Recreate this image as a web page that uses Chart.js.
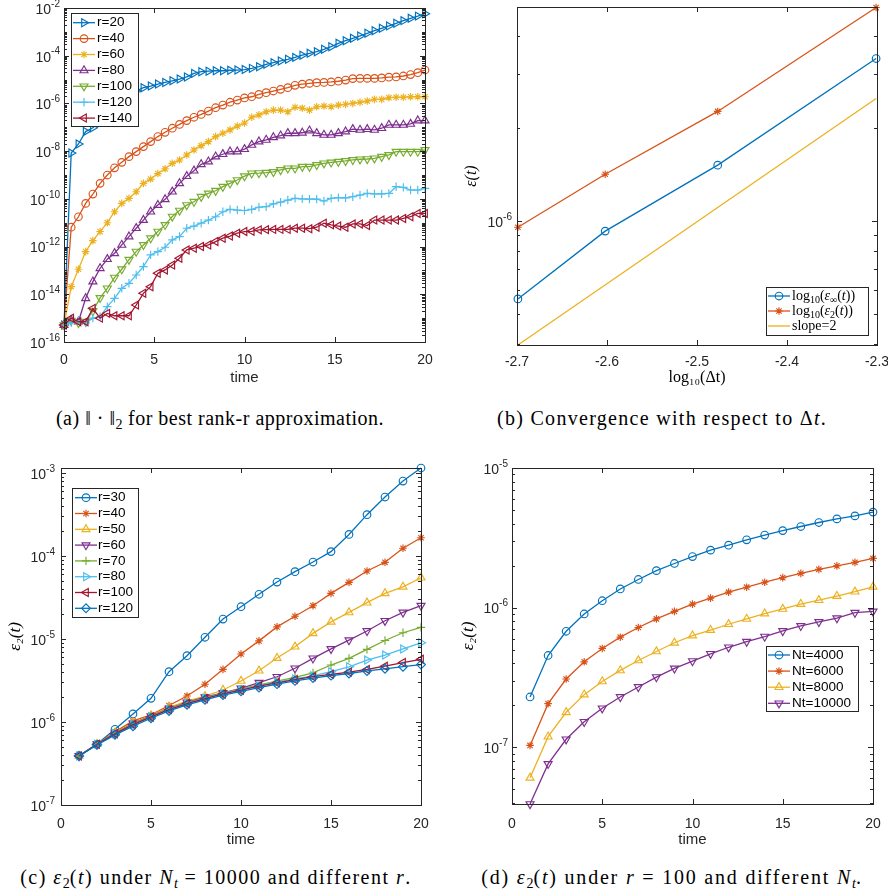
<!DOCTYPE html>
<html>
<head>
<meta charset="utf-8">
<title>rank-r approximation errors</title>
<script src="https://cdn.jsdelivr.net/npm/chart.js@4.4.1/dist/chart.umd.min.js"></script>
<style>
  html, body { margin: 0; padding: 0; background: #fff; }
  body { position: relative; width: 888px; height: 894px; overflow: hidden; }
  canvas { position: absolute; }
  .cap { position: absolute; white-space: nowrap; font-family: 'Liberation Serif', 'Times New Roman', serif;
         font-size: 20px; letter-spacing: 1.3px; line-height: 22px; color: #000; transform: translateX(-50%); }
  .cap sub { font-size: 70%; vertical-align: -0.3em; line-height: 0; letter-spacing: 0; }
</style>
</head>
<body>
<canvas id="chartA" width="444" height="395" style="left:0;top:0"></canvas>
<canvas id="chartB" width="470" height="395" style="left:444px;top:0"></canvas>
<canvas id="chartC" width="444" height="420" style="left:0;top:440px"></canvas>
<canvas id="chartD" width="444" height="420" style="left:444px;top:440px"></canvas>
<div class="cap" style="left:220px;top:407px;letter-spacing:0.5px">(a) ‖ · ‖<sub>2</sub> for best rank-r approximation.</div>
<div class="cap" style="left:662px;top:407px">(b) Convergence with respect to Δ<i>t</i>.</div>
<div class="cap" style="left:216px;top:866px;letter-spacing:1.5px">(c) <i>ε</i><sub>2</sub>(<i>t</i>) under <i>N<sub>t</sub></i> = 10000 and different <i>r</i>.</div>
<div class="cap" style="left:672px;top:866px;letter-spacing:1.8px">(d) <i>ε</i><sub>2</sub>(<i>t</i>) under <i>r</i> = 100 and different <i>N<sub>t</sub></i>.</div>
<script>
// ─── Panel (a): log10 of ||·||2 error ────────────────────────────
const aTime = [0, 0.4, 0.8, 1.2, 1.6, 2, 2.4, 2.8, 3.2, 3.6, 4, 4.4, 4.8, 5.2, 5.6, 6, 6.4, 6.8, 7.2, 7.6,
  8, 8.4, 8.8, 9.2, 9.6, 10, 10.4, 10.8, 11.2, 11.6, 12, 12.4, 12.8, 13.2, 13.6, 14, 14.4, 14.8, 15.2, 15.6,
  16, 16.4, 16.8, 17.2, 17.6, 18, 18.4, 18.8, 19.2, 19.6, 20];
const aLogR20 = [-15.29, -8.08, -7.70, -7.18, -7.02, -6.75, -6.50, -6.25, -6.00, -5.75, -5.48, -5.34, -5.27, -5.19, -5.12, -5.05, -4.98,
  -4.89, -4.74, -4.67, -4.65, -4.63, -4.63, -4.61, -4.60, -4.58, -4.53, -4.46, -4.36, -4.29, -4.22, -4.15, -4.07, -3.98, -3.90,
  -3.83, -3.73, -3.62, -3.48, -3.37, -3.27, -3.17, -3.06, -2.95, -2.85, -2.75, -2.64, -2.53, -2.43, -2.34, -2.24];
const aLogR40 = [-15.29, -11.19, -10.75, -10.19, -9.80, -9.35, -9.00, -8.70, -8.47, -8.23, -8.02, -7.81, -7.60, -7.39, -7.21, -7.04,
  -6.88, -6.72, -6.58, -6.46, -6.32, -6.18, -6.07, -5.95, -5.86, -5.77, -5.72, -5.62, -5.55, -5.48, -5.41, -5.34, -5.24, -5.19,
  -5.16, -5.13, -5.12, -5.10, -5.07, -5.02, -4.96, -4.95, -4.95, -4.95, -4.93, -4.90, -4.89, -4.85, -4.79, -4.71, -4.60];
const aLogR60 = [-15.29, -13.68, -12.95, -12.21, -11.75, -11.37, -11.00, -10.54, -10.19, -9.98, -9.70, -9.35, -9.17, -8.94, -8.74,
  -8.51, -8.37, -8.16, -7.95, -7.77, -7.60, -7.39, -7.25, -7.11, -6.95, -6.82, -6.58, -6.48, -6.35, -6.28, -6.28, -6.35, -6.16,
  -6.20, -6.28, -6.14, -6.11, -6.14, -6.07, -6.04, -6.00, -5.95, -5.90, -5.83, -5.83, -5.76, -5.74, -5.74, -5.72, -5.72, -5.72];
const aLogR80 = [-15.29, -15.08, -15.15, -14.17, -13.47, -12.91, -12.53, -12.28, -11.93, -11.58, -11.23, -10.89, -10.54, -10.26,
  -10.02, -9.70, -9.35, -9.05, -8.82, -8.55, -8.44, -8.23, -8.13, -8.02, -8.02, -7.92, -7.74, -7.60, -7.53, -7.42, -7.35, -7.25,
  -7.25, -7.23, -7.14, -7.25, -7.32, -7.32, -7.25, -7.18, -7.08, -7.11, -7.08, -7.11, -7.04, -6.90, -6.90, -6.90, -6.86, -6.72, -6.72];
const aLogR100 = [-15.29, -15.10, -15.20, -15.15, -14.70, -14.15, -13.75, -13.30, -12.95, -12.55, -12.21, -11.93, -11.65, -11.37,
  -11.09, -10.74, -10.49, -10.26, -10.12, -9.91, -9.77, -9.66, -9.49, -9.35, -9.21, -9.05, -8.93, -8.92, -8.90, -8.87, -8.79, -8.72,
  -8.72, -8.65, -8.65, -8.58, -8.51, -8.47, -8.44, -8.41, -8.37, -8.34, -8.33, -8.30, -8.23, -8.16, -8.02, -8.02, -8.02, -8.02, -7.95];
const aLogR120 = [-15.29, -15.20, -15.10, -15.20, -15.00, -14.94, -14.52, -14.17, -13.75, -13.54, -13.19, -12.84, -12.35, -12.21,
  -12.03, -11.72, -11.58, -11.23, -11.14, -11.02, -10.89, -10.75, -10.54, -10.44, -10.47, -10.49, -10.44, -10.35, -10.33, -10.21,
  -10.14, -10.05, -9.98, -10.00, -10.01, -10.01, -10.09, -9.98, -9.95, -9.96, -9.91, -9.84, -9.77, -9.79, -9.79, -9.77, -9.49,
  -9.52, -9.63, -9.63, -9.56];
const aLogR140 = [-15.29, -15.00, -15.15, -15.15, -14.59, -15.00, -14.80, -14.90, -14.90, -14.90, -14.45, -13.96, -13.68, -13.12,
  -12.98, -12.77, -12.49, -12.14, -12.07, -12.00, -11.93, -11.79, -11.65, -11.56, -11.44, -11.37, -11.36, -11.30, -11.29, -11.28,
  -11.28, -11.28, -11.23, -11.23, -11.25, -11.19, -11.02, -11.09, -11.14, -11.19, -11.05, -11.05, -11.12, -10.89, -10.89, -10.89,
  -10.89, -10.82, -10.75, -10.61, -10.61];
const aLabels = ['r=20', 'r=40', 'r=60', 'r=80', 'r=100', 'r=120', 'r=140'];
const aXTicks = [0, 5, 10, 15, 20];
const aYTicks = [1e-16, 1e-14, 1e-12, 1e-10, 1e-8, 1e-6, 1e-4, 1e-2];

// ─── Panel (b): convergence in Δt ────────────────────────────────
const bLogDt = [-2.699, -2.602, -2.477, -2.301];
const bErrInf = [5.6e-7, 9.29e-7, 1.52e-6, 3.37e-6];
const bErr2 = [9.56e-7, 1.42e-6, 2.27e-6, 4.93e-6];
const bSlopeX = [-2.699, -2.301];
const bSlope = [3.97e-7, 2.5e-6];
const bXTicks = [-2.7, -2.6, -2.5, -2.4, -2.3];
const bYTicks = [1e-6];

// ─── Panel (c): Nt = 10000, different r ──────────────────────────
const cTime = [1, 2, 3, 4, 5, 6, 7, 8, 9, 10, 11, 12, 13, 14, 15, 16, 17, 18, 19, 20];
const cR30 = [3.93e-7, 5.43e-7, 8.17e-7, 1.25e-6, 1.93e-6, 4.04e-6, 6.3e-6, 1.05e-5, 1.74e-5, 2.45e-5, 3.46e-5, 4.86e-5, 6.48e-5, 8.47e-5, 1.13e-4, 1.82e-4, 3.15e-4, 5.14e-4, 8.0e-4, 1.15e-3];
const cR40 = [3.9e-7, 5.4e-7, 7.6e-7, 1.03e-6, 1.22e-6, 1.58e-6, 2.06e-6, 2.85e-6, 4.31e-6, 6.6e-6, 9.5e-6, 1.40e-5, 1.88e-5, 2.52e-5, 3.55e-5, 4.82e-5, 6.6e-5, 8.4e-5, 1.24e-4, 1.66e-4];
const cR50 = [3.9e-7, 5.4e-7, 7.4e-7, 9.8e-7, 1.2e-6, 1.5e-6, 1.78e-6, 2.05e-6, 2.43e-6, 3.12e-6, 4.15e-6, 5.9e-6, 8.07e-6, 1.17e-5, 1.61e-5, 2.09e-5, 2.74e-5, 3.55e-5, 4.26e-5, 5.48e-5];
const cR60 = [3.9e-7, 5.4e-7, 7.3e-7, 9.6e-7, 1.18e-6, 1.45e-6, 1.73e-6, 2.0e-6, 2.25e-6, 2.55e-6, 2.98e-6, 3.51e-6, 4.44e-6, 5.85e-6, 7.6e-6, 9.7e-6, 1.25e-5, 1.66e-5, 2.09e-5, 2.52e-5];
const cR70 = [3.9e-7, 5.4e-7, 7.3e-7, 9.5e-7, 1.17e-6, 1.43e-6, 1.70e-6, 1.95e-6, 2.23e-6, 2.5e-6, 2.8e-6, 3.1e-6, 3.45e-6, 3.9e-6, 4.86e-6, 5.85e-6, 7.5e-6, 9.6e-6, 1.19e-5, 1.38e-5];
const cR80 = [3.9e-7, 5.4e-7, 7.2e-7, 9.4e-7, 1.16e-6, 1.42e-6, 1.68e-6, 1.93e-6, 2.2e-6, 2.45e-6, 2.74e-6, 3.02e-6, 3.3e-6, 3.6e-6, 4.04e-6, 4.63e-6, 5.58e-6, 6.4e-6, 7.6e-6, 9.0e-6];
const cR100 = [3.9e-7, 5.4e-7, 7.2e-7, 9.3e-7, 1.15e-6, 1.41e-6, 1.67e-6, 1.91e-6, 2.18e-6, 2.42e-6, 2.70e-6, 2.97e-6, 3.25e-6, 3.52e-6, 3.76e-6, 4.0e-6, 4.3e-6, 4.7e-6, 5.2e-6, 5.7e-6];
const cR120 = [3.9e-7, 5.3e-7, 7.0e-7, 8.9e-7, 1.11e-6, 1.36e-6, 1.61e-6, 1.85e-6, 2.11e-6, 2.34e-6, 2.60e-6, 2.86e-6, 3.13e-6, 3.38e-6, 3.62e-6, 3.84e-6, 4.12e-6, 4.38e-6, 4.64e-6, 4.92e-6];
const cLabels = ['r=30', 'r=40', 'r=50', 'r=60', 'r=70', 'r=80', 'r=100', 'r=120'];
const cXTicks = [0, 5, 10, 15, 20];
const cYTicks = [1e-7, 1e-6, 1e-5, 1e-4, 1e-3];

// ─── Panel (d): r = 100, different Nt ────────────────────────────
const dTime = [1, 2, 3, 4, 5, 6, 7, 8, 9, 10, 11, 12, 13, 14, 15, 16, 17, 18, 19, 20];
const dNt4000 = [2.29e-7, 4.54e-7, 6.77e-7, 9.0e-7, 1.12e-6, 1.36e-6, 1.59e-6, 1.84e-6, 2.07e-6, 2.32e-6, 2.58e-6, 2.80e-6, 3.06e-6, 3.31e-6, 3.56e-6, 3.81e-6, 4.07e-6, 4.32e-6, 4.54e-6, 4.83e-6];
const dNt6000 = [1.03e-7, 2.05e-7, 3.08e-7, 4.09e-7, 5.1e-7, 6.14e-7, 7.2e-7, 8.3e-7, 9.4e-7, 1.06e-6, 1.17e-6, 1.29e-6, 1.40e-6, 1.52e-6, 1.64e-6, 1.76e-6, 1.88e-6, 1.99e-6, 2.11e-6, 2.25e-6];
const dNt8000 = [6.04e-8, 1.19e-7, 1.78e-7, 2.38e-7, 2.96e-7, 3.55e-7, 4.18e-7, 4.85e-7, 5.6e-7, 6.3e-7, 6.9e-7, 7.6e-7, 8.3e-7, 9.06e-7, 9.78e-7, 1.06e-6, 1.13e-6, 1.21e-6, 1.30e-6, 1.41e-6];
const dNt10000 = [3.92e-8, 7.6e-8, 1.14e-7, 1.52e-7, 1.90e-7, 2.29e-7, 2.70e-7, 3.18e-7, 3.67e-7, 4.14e-7, 4.67e-7, 5.2e-7, 5.7e-7, 6.2e-7, 6.8e-7, 7.4e-7, 7.9e-7, 8.4e-7, 9.2e-7, 9.4e-7];
const dLabels = ['Nt=4000', 'Nt=6000', 'Nt=8000', 'Nt=10000'];
const dXTicks = [0, 5, 10, 15, 20];
const dYTicks = [1e-7, 1e-6, 1e-5];

// ─── Style tokens (MATLAB default line order) ────────────────────
const C = {
  blue: '#0072BD', orange: '#D95319', yellow: '#EDB120', purple: '#7E2F8E',
  green: '#77AC30', cyan: '#4DBEEE', wine: '#A2142F',
};
const AXIS = '#262626';
const SANS = "'Liberation Sans', Arial, sans-serif";
const SERIF = "'Liberation Serif', 'Times New Roman', serif";

const MARK = {
  o: { style: 'circle', r: 3.8, rot: 0 },
  '*': { style: 'star', r: 3.8, rot: 0 },
  '^': { style: 'triangle', r: 4.6, rot: 0 },
  v: { style: 'triangle', r: 4.6, rot: 180 },
  '>': { style: 'triangle', r: 4.6, rot: 90 },
  '<': { style: 'triangle', r: 4.6, rot: 270 },
  '+': { style: 'cross', r: 4.2, rot: 0 },
  d: { style: 'rectRot', r: 4.4, rot: 0 },
  none: { style: 'circle', r: 0, rot: 0 },
};

function series(label, color, mark, xs, ys, parts) {
  const m = MARK[mark];
  return {
    label,
    legendParts: parts,
    data: xs.map((x, i) => ({ x, y: ys[i] })),
    borderColor: color,
    backgroundColor: color,
    borderWidth: 1.3,
    tension: 0,
    clip: false,
    pointStyle: m.style,
    pointRadius: m.r,
    pointHoverRadius: m.r,
    pointRotation: m.rot,
    pointBorderColor: color,
    pointBackgroundColor: 'rgba(0,0,0,0)',
    pointBorderWidth: 1.15,
  };
}

// ─── Plugins: MATLAB-like box with inward ticks, 10^n labels, inset legend ───
const matlabBox = {
  id: 'matlabBox',
  afterDatasetsDraw(chart) {
    const { ctx, chartArea: a, scales: { x, y } } = chart;
    const majors = y.ticks.map((t) => t.value);
    ctx.save();
    ctx.strokeStyle = AXIS;
    ctx.lineWidth = 1;
    ctx.beginPath();
    x.ticks.forEach((t) => {
      const px = Math.round(x.getPixelForValue(t.value)) + 0.5;
      ctx.moveTo(px, a.bottom); ctx.lineTo(px, a.bottom - 5);
      ctx.moveTo(px, a.top); ctx.lineTo(px, a.top + 5);
    });
    const lo = Math.floor(Math.log10(y.min));
    const hi = Math.ceil(Math.log10(y.max));
    for (let e = lo; e <= hi; e++) {
      for (let m = 1; m < 10; m++) {
        const v = m * Math.pow(10, e);
        if (v < y.min * 0.999 || v > y.max * 1.001) continue;
        const len = majors.some((t) => Math.abs(t / v - 1) < 1e-6) ? 5 : 3;
        const py = Math.round(y.getPixelForValue(v)) + 0.5;
        ctx.moveTo(a.left, py); ctx.lineTo(a.left + len, py);
        ctx.moveTo(a.right, py); ctx.lineTo(a.right - len, py);
      }
    }
    ctx.stroke();
    ctx.strokeRect(Math.round(a.left) + 0.5, Math.round(a.top) + 0.5,
      Math.round(a.right - a.left), Math.round(a.bottom - a.top));
    ctx.restore();
  },
};

const supLabels = {
  id: 'supLabels',
  afterDraw(chart, args, o) {
    const { ctx, chartArea: a, scales: { y } } = chart;
    ctx.save();
    ctx.fillStyle = AXIS;
    ctx.textAlign = 'right';
    ctx.textBaseline = 'middle';
    y.ticks.forEach((t) => {
      const py = y.getPixelForValue(t.value);
      const ex = String(Math.round(Math.log10(t.value)));
      const xr = a.left - o.pad;
      ctx.font = '10px ' + SANS;
      const w = ctx.measureText(ex).width;
      ctx.fillText(ex, xr, py - 4);
      ctx.font = '14px ' + SANS;
      ctx.fillText('10', xr - w, py + 2);
    });
    ctx.restore();
  },
};

function drawRich(ctx, parts, x, y, size, family) {
  parts.forEach(([txt, mode]) => {
    const sub = mode.includes('s');
    const fs = sub ? Math.round(size * 0.7) : size;
    ctx.font = (mode.includes('i') ? 'italic ' : '') + fs + 'px ' + family;
    ctx.fillText(txt, x, sub ? y + size * 0.28 : y);
    x += ctx.measureText(txt).width;
  });
}

const boxLegend = {
  id: 'boxLegend',
  afterDraw(chart, args, o) {
    if (!o.box) return;
    const ctx = chart.ctx;
    const [bx, by, bw, bh] = o.box;
    ctx.save();
    ctx.fillStyle = '#fff';
    ctx.fillRect(bx, by, bw, bh);
    ctx.strokeStyle = AXIS;
    ctx.lineWidth = 1;
    ctx.strokeRect(bx + 0.5, by + 0.5, bw, bh);
    ctx.textAlign = 'left';
    ctx.textBaseline = 'middle';
    chart.data.datasets.forEach((ds, i) => {
      const cy = o.y0 + i * o.dy;
      ctx.strokeStyle = ds.borderColor;
      ctx.lineWidth = ds.borderWidth;
      ctx.beginPath(); ctx.moveTo(o.x0, cy); ctx.lineTo(o.x1, cy); ctx.stroke();
      if (ds.pointRadius > 0) {
        ctx.lineWidth = ds.pointBorderWidth;
        ctx.fillStyle = 'rgba(0,0,0,0)';
        Chart.helpers.drawPoint(ctx, {
          pointStyle: ds.pointStyle, rotation: ds.pointRotation,
          radius: ds.pointRadius, borderWidth: ds.pointBorderWidth,
        }, (o.x0 + o.x1) / 2, cy);
      }
      ctx.fillStyle = '#000';
      drawRich(ctx, ds.legendParts || [[ds.label, '']], o.tx, cy, o.size, o.family);
    });
    ctx.restore();
  },
};

// ─── Chart factory: pins the plot box to fixed pixels ────────────
function makeChart(id, g, datasets, ax) {
  const n = datasets.length;
  datasets.forEach((d, i) => { d.order = n - i; }); // later series on top, as in MATLAB
  return new Chart(document.getElementById(id), {
    type: 'line',
    data: { datasets },
    plugins: [matlabBox, supLabels, boxLegend],
    options: {
      responsive: false,
      animation: false,
      events: [],
      layout: { padding: { left: 0, top: g.t, right: g.w - g.r, bottom: 0 } },
      plugins: {
        legend: { display: false },
        tooltip: { enabled: false },
        supLabels: { pad: ax.labelPad },
        boxLegend: ax.legend,
      },
      scales: {
        x: {
          type: 'linear',
          min: ax.xMin,
          max: ax.xMax,
          afterBuildTicks: (s) => { s.ticks = ax.xTicks.map((v) => ({ value: v })); },
          afterFit: (s) => { s.height = g.h - g.b; },
          grid: { display: false },
          border: { display: false },
          ticks: {
            autoSkip: false, maxRotation: 0, padding: ax.xTickPad, color: AXIS,
            font: { family: SANS, size: 14 }, callback: (v) => String(v),
          },
          title: {
            display: true, text: ax.xTitle, color: ax.xTitleColor || AXIS, font: ax.xTitleFont,
            padding: { top: 0, bottom: ax.xTitlePad },
          },
        },
        y: {
          type: 'logarithmic',
          min: ax.yMin,
          max: ax.yMax,
          afterBuildTicks: (s) => { s.ticks = ax.yTicks.map((v) => ({ value: v })); },
          afterFit: (s) => { s.width = g.l; },
          grid: { display: false },
          border: { display: false },
          ticks: { display: false },
          title: {
            display: !!ax.yTitle, text: ax.yTitle || '', color: '#000', font: ax.yTitleFont,
            padding: { top: ax.yTitlePad || 0, bottom: 0 },
          },
        },
      },
    },
  });
}

const pow10 = (arr) => arr.map((e) => Math.pow(10, e)); // panel (a) values were read as log10

// (a)
makeChart('chartA', { w: 444, h: 395, l: 64, t: 8, r: 425, b: 342 }, [
  series(aLabels[0], C.blue, '>', aTime, pow10(aLogR20)),
  series(aLabels[1], C.orange, 'o', aTime, pow10(aLogR40)),
  series(aLabels[2], C.yellow, '*', aTime, pow10(aLogR60)),
  series(aLabels[3], C.purple, '^', aTime, pow10(aLogR80)),
  series(aLabels[4], C.green, 'v', aTime, pow10(aLogR100)),
  series(aLabels[5], C.cyan, '+', aTime, pow10(aLogR120)),
  series(aLabels[6], C.wine, '<', aTime, pow10(aLogR140)),
], {
  xMin: 0, xMax: 20, xTicks: aXTicks, yMin: 1e-16, yMax: 1e-2, yTicks: aYTicks,
  xTickPad: 2, labelPad: 4,
  xTitle: 'time', xTitleFont: { family: SANS, size: 15 }, xTitlePad: 8,
  legend: { box: [71, 13, 67, 113], x0: 73, x1: 95, tx: 97, y0: 22.7, dy: 15.9, size: 13.5, family: SANS },
});

// (b)
makeChart('chartB', { w: 470, h: 395, l: 73, t: 7, r: 433, b: 345 }, [
  series('log10(eps_inf(t))', C.blue, 'o', bLogDt, bErrInf,
    [['log', ''], ['10', 's'], ['(', ''], ['ε', 'i'], ['∞', 's'], ['(', ''], ['t', 'i'], ['))', '']]),
  series('log10(eps_2(t))', C.orange, '*', bLogDt, bErr2,
    [['log', ''], ['10', 's'], ['(', ''], ['ε', 'i'], ['2', 's'], ['(', ''], ['t', 'i'], ['))', '']]),
  series('slope=2', C.yellow, 'none', bSlopeX, bSlope),
], {
  xMin: -2.7, xMax: -2.3, xTicks: bXTicks, yMin: 3.97e-7, yMax: 4.95e-6, yTicks: bYTicks,
  xTickPad: 1, labelPad: 5,
  xTitle: 'log₁₀(Δt)', xTitleColor: '#000', xTitleFont: { family: SERIF, size: 16 }, xTitlePad: 8,
  yTitle: 'ε(t)', yTitleFont: { family: SERIF, size: 16, style: 'italic' }, yTitlePad: 18,
  legend: { box: [322, 287, 102, 48], x0: 324, x1: 346, tx: 348, y0: 296, dy: 15, size: 14, family: SERIF },
});

// (c)
makeChart('chartC', { w: 444, h: 420, l: 61, t: 28, r: 421, b: 365 }, [
  series(cLabels[0], C.blue, 'o', cTime, cR30),
  series(cLabels[1], C.orange, '*', cTime, cR40),
  series(cLabels[2], C.yellow, '^', cTime, cR50),
  series(cLabels[3], C.purple, 'v', cTime, cR60),
  series(cLabels[4], C.green, '+', cTime, cR70),
  series(cLabels[5], C.cyan, '>', cTime, cR80),
  series(cLabels[6], C.wine, '<', cTime, cR100),
  series(cLabels[7], C.blue, 'd', cTime, cR120),
], {
  xMin: 0, xMax: 20, xTicks: cXTicks, yMin: 1e-7, yMax: 1.15e-3, yTicks: cYTicks,
  xTickPad: 3, labelPad: 6,
  xTitle: 'time', xTitleFont: { family: SANS, size: 15 }, xTitlePad: 11,
  yTitle: 'ε₂(t)', yTitleFont: { family: SERIF, size: 17, style: 'italic' }, yTitlePad: 5,
  legend: { box: [72, 48, 66, 129], x0: 75, x1: 97, tx: 98, y0: 57.7, dy: 15.8, size: 13.5, family: SANS },
});

// (d)
makeChart('chartD', { w: 444, h: 420, l: 68, t: 28, r: 429, b: 364 }, [
  series(dLabels[0], C.blue, 'o', dTime, dNt4000),
  series(dLabels[1], C.orange, '*', dTime, dNt6000),
  series(dLabels[2], C.yellow, '^', dTime, dNt8000),
  series(dLabels[3], C.purple, 'v', dTime, dNt10000),
], {
  xMin: 0, xMax: 20, xTicks: dXTicks, yMin: 3.92e-8, yMax: 1e-5, yTicks: dYTicks,
  xTickPad: 4, labelPad: 4,
  xTitle: 'time', xTitleFont: { family: SANS, size: 15 }, xTitlePad: 11,
  yTitle: 'ε₂(t)', yTitleFont: { family: SERIF, size: 17, style: 'italic' }, yTitlePad: 14,
  legend: { box: [322, 206, 92, 65], x0: 324, x1: 346, tx: 348, y0: 215, dy: 16.1, size: 13.5, family: SANS },
});
</script>
</body>
</html>
